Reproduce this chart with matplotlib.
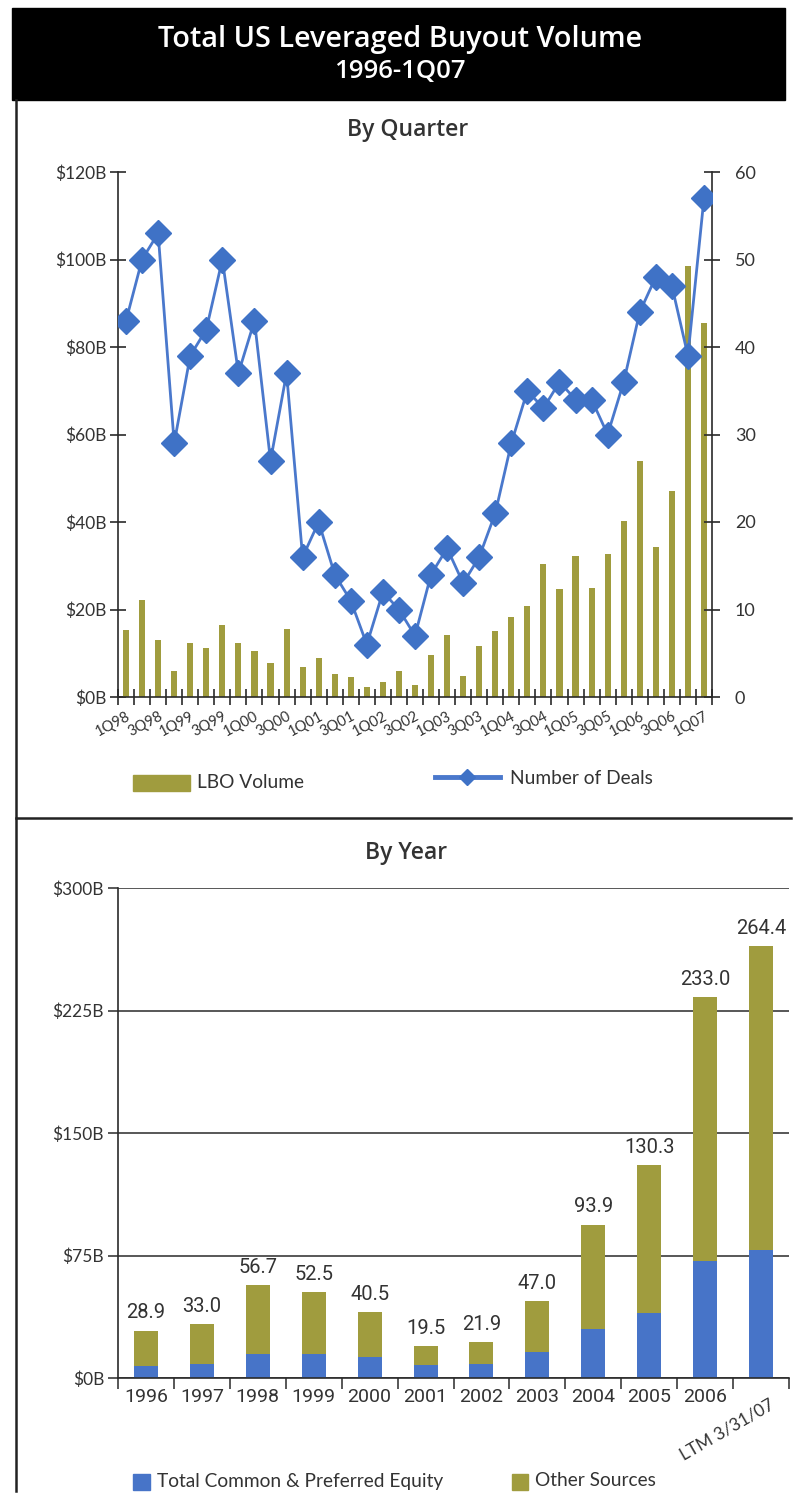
import matplotlib
matplotlib.use('Agg')
import matplotlib.pyplot as plt
from matplotlib.patches import Rectangle
from matplotlib.lines import Line2D
from matplotlib.transforms import ScaledTranslation
import numpy as np

# ---------------- data ----------------
quarters = ["1Q98", "2Q98", "3Q98", "4Q98", "1Q99", "2Q99", "3Q99", "4Q99",
            "1Q00", "2Q00", "3Q00", "4Q00", "1Q01", "2Q01", "3Q01", "4Q01",
            "1Q02", "2Q02", "3Q02", "4Q02", "1Q03", "2Q03", "3Q03", "4Q03",
            "1Q04", "2Q04", "3Q04", "4Q04", "1Q05", "2Q05", "3Q05", "4Q05",
            "1Q06", "2Q06", "3Q06", "4Q06", "1Q07"]
lbo_volume = [15.3, 22.2, 13.1, 5.9, 12.3, 11.1, 16.4, 12.3, 10.6, 7.8,
              15.5, 6.8, 9.0, 5.3, 4.5, 2.2, 3.5, 6.0, 2.8, 9.7,
              14.2, 4.8, 11.7, 15.2, 18.4, 20.7, 30.5, 24.6, 32.3, 25.0,
              32.7, 40.3, 54.0, 34.4, 47.2, 98.5, 85.5]
num_deals = [43, 50, 53, 29, 39, 42, 50, 37, 43, 27, 37, 16, 20, 14, 11, 6,
             12, 10, 7, 14, 17, 13, 16, 21, 29, 35, 33, 36, 34, 34, 30, 36,
             44, 48, 47, 39, 57]

years = ["1996", "1997", "1998", "1999", "2000", "2001", "2002", "2003",
         "2004", "2005", "2006", "LTM 3/31/07"]
total_volume = [28.9, 33.0, 56.7, 52.5, 40.5, 19.5, 21.9, 47.0, 93.9, 130.3, 233.0, 264.4]
equity = [7.2, 8.6, 14.8, 15.0, 12.7, 8.2, 8.6, 16.2, 29.8, 39.6, 71.9, 78.4]

left_ticks_q = [0, 20, 40, 60, 80, 100, 120]
right_ticks_q = [0, 10, 20, 30, 40, 50, 60]
ticks_y = [0, 75, 150, 225, 300]

# ---------------- style ----------------
OLIVE = '#a09c3e'
BLUE_LINE = '#4a78cc'
BLUE_MK = '#3f72c6'
BLUE_BAR = '#4774c8'
TXT = '#333333'
AX = '#2a2a2a'
FONT = ['Lato', 'DejaVu Sans']
WIDE = ['Open Sans', 'DejaVu Sans']
NARROW = ['Liberation Sans Narrow', 'Roboto', 'DejaVu Sans']
plt.rcParams['font.family'] = FONT

W, H = 793, 1493
fig = plt.figure(figsize=(W / 100, H / 100), dpi=100)
fig.patch.set_facecolor('white')

def fx(p):
    return p / W

def fy(p):
    return 1 - p / H

# ---------------- frame ----------------
fig.add_artist(Rectangle((fx(12), fy(100)), fx(785) - fx(12), fy(8) - fy(100),
                         transform=fig.transFigure, color='black', zorder=0))
fig.add_artist(Line2D([fx(16), fx(16)], [fy(100), fy(1491)], transform=fig.transFigure,
                      color='#222222', lw=1.8))
fig.add_artist(Line2D([fx(16), fx(791)], [fy(818), fy(818)], transform=fig.transFigure,
                      color='#222222', lw=1.8))

fig.text(fx(400), fy(40), "Total US Leveraged Buyout Volume", color='white',
         fontsize=20.8, fontweight='semibold', ha='center', va='center', family=WIDE)
fig.text(fx(400), fy(72), "1996-1Q07", color='white', fontsize=18.5,
         fontweight='semibold', ha='center', va='center', family=WIDE)
fig.text(fx(408), fy(130), "By Quarter", color=TXT, fontsize=16.5,
         fontweight='semibold', ha='center', va='center', family=WIDE)
fig.text(fx(406), fy(853), "By Year", color=TXT, fontsize=16.5,
         fontweight='semibold', ha='center', va='center', family=WIDE)

# ---------------- top chart ----------------
ax1 = fig.add_axes([fx(118), fy(697), fx(712) - fx(118), fy(172) - fy(697)])
xq = np.arange(len(quarters)) + 0.5
ax1.bar(xq, lbo_volume, width=0.38, color=OLIVE, zorder=2)
ax1.set_xlim(0, len(quarters))
ax1.set_ylim(0, 120)
ax1.set_yticks(left_ticks_q)
ax1.set_yticklabels([f"${v}B" for v in left_ticks_q])
for s in ['top', 'right']:
    ax1.spines[s].set_visible(False)
for s in ['left', 'bottom']:
    ax1.spines[s].set_color(AX)
    ax1.spines[s].set_linewidth(1.2)
ax1.tick_params(axis='y', direction='inout', length=11, width=1.2, color=AX,
                labelsize=12.5, labelcolor=TXT, pad=2.5)
ax1.set_xticks(np.arange(0, len(quarters) + 1), minor=True)
ax1.set_xticks(xq[::2])
ax1.set_xticklabels(quarters[::2], rotation=28, ha='right', rotation_mode='anchor')
ax1.tick_params(axis='x', which='minor', direction='inout', length=11, width=1.2, color=AX)
ax1.tick_params(axis='x', which='major', length=0, labelsize=10.5, labelcolor=TXT, pad=9)

ax2 = ax1.twinx()
ax2.plot(xq, num_deals, color=BLUE_LINE, lw=2.0, marker='D', ms=13,
         mfc=BLUE_MK, mec=BLUE_MK, zorder=3)
ax2.set_ylim(0, 60)
ax2.set_yticks(right_ticks_q)
for s in ['top', 'left', 'bottom']:
    ax2.spines[s].set_visible(False)
ax2.spines['right'].set_color(AX)
ax2.spines['right'].set_linewidth(1.2)
ax2.tick_params(axis='y', direction='inout', length=11, width=1.2, color=AX,
                labelsize=13, labelcolor=TXT, pad=11)

# top legend
fig.add_artist(Rectangle((fx(133), fy(791)), fx(190) - fx(133), fy(775) - fy(791),
                         transform=fig.transFigure, color=OLIVE))
fig.text(fx(197), fy(783), "LBO Volume", color=TXT, fontsize=13.8, ha='left', va='center')
fig.add_artist(Line2D([fx(435), fx(500)], [fy(777), fy(777)], transform=fig.transFigure,
                      color=BLUE_LINE, lw=3.5))
fig.add_artist(Line2D([fx(467)], [fy(777)], transform=fig.transFigure, marker='D',
                      ms=8, color=BLUE_MK, lw=0))
fig.text(fx(510), fy(778), "Number of Deals", color=TXT, fontsize=13.8, ha='left', va='center')

# ---------------- bottom chart ----------------
ax3 = fig.add_axes([fx(118), fy(1378), fx(789) - fx(118), fy(888) - fy(1378)])
xy = np.arange(len(years)) + 0.5
other = [t - e for t, e in zip(total_volume, equity)]
ax3.bar(xy, equity, width=0.43, color=BLUE_BAR, zorder=2)
ax3.bar(xy, other, bottom=equity, width=0.43, color=OLIVE, zorder=2)
for xv, tv in zip(xy, total_volume):
    ax3.annotate(f"{tv:.1f}", (xv, tv), xytext=(0, 6), textcoords='offset points',
                 ha='center', va='bottom', fontsize=14.5, color=TXT, family=NARROW)
ax3.set_xlim(0, len(years))
ax3.set_ylim(0, 300)
ax3.set_yticks(ticks_y)
ax3.set_yticklabels([f"${v}B" for v in ticks_y])
ax3.yaxis.grid(True, color=AX, lw=1.1, zorder=0)
for s in ['top', 'right']:
    ax3.spines[s].set_visible(False)
for s in ['left', 'bottom']:
    ax3.spines[s].set_color(AX)
    ax3.spines[s].set_linewidth(1.2)
ax3.tick_params(axis='y', direction='out', length=7, width=1.1, color=AX,
                labelsize=12.5, labelcolor=TXT, pad=3)
ax3.set_xticks(np.arange(0, len(years) + 1), minor=True)
ax3.set_xticks(xy)
ax3.set_xticklabels(years)
for lab in ax3.get_xticklabels()[:-1]:
    lab.set_family(NARROW)
    lab.set_fontsize(14)
ax3.tick_params(axis='x', which='minor', direction='out', length=8, width=1.1, color=AX)
ax3.tick_params(axis='x', which='major', length=0, labelcolor=TXT, pad=7)
lab = ax3.get_xticklabels()[-1]
lab.set_fontsize(12.5)
lab.set_rotation(30)
lab.set_ha('right')
lab.set_rotation_mode('anchor')
lab.set_transform(lab.get_transform() + ScaledTranslation(0.08, -0.09, fig.dpi_scale_trans))

# bottom legend
fig.add_artist(Rectangle((fx(133), fy(1490)), fx(150) - fx(133), fy(1474) - fy(1490),
                         transform=fig.transFigure, color=BLUE_BAR))
fig.text(fx(157), fy(1482), "Total Common & Preferred Equity", color=TXT, fontsize=13.8,
         ha='left', va='center')
fig.add_artist(Rectangle((fx(512), fy(1490)), fx(528) - fx(512), fy(1474) - fy(1490),
                         transform=fig.transFigure, color=OLIVE))
fig.text(fx(535), fy(1481), "Other Sources", color=TXT, fontsize=13.8, ha='left', va='center')

fig.savefig('out.png', dpi=100)
